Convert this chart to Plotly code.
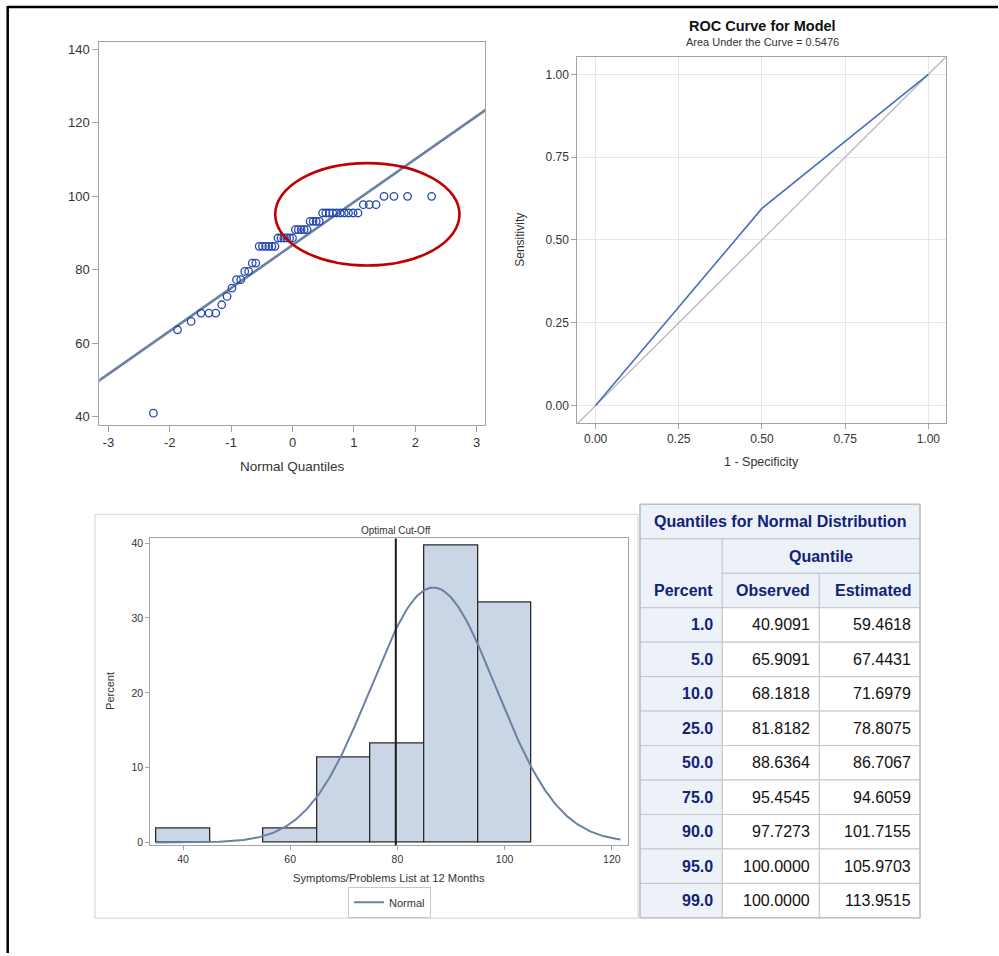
import numpy as np
import plotly.graph_objects as go
from statistics import NormalDist

# ---------------------------------------------------------------- data
# Symptoms/Problems List scores at 12 months (distinct levels and how often each occurs)
SCORE_LEVELS = [40.9091, 63.6364, 65.9091, 68.1818, 70.4545, 72.7273, 75.0000,
                77.2727, 79.5455, 81.8182, 86.3636, 88.6364, 90.9091, 93.1818,
                95.4545, 97.7273, 100.0000]
SCORE_COUNTS = [1, 1, 1, 3, 1, 1, 1, 2, 2, 2, 6, 6, 5, 4, 10, 3, 4]

# fitted normal distribution parameters
MU = 86.7067
SIGMA = 11.7114

# ROC curve
ROC_FPR = [0.0, 0.5, 1.0]
ROC_TPR = [0.0, 0.5952, 1.0]
AUC = 0.5476

# optimal cut-off on the score scale
CUTOFF = 79.7

# histogram bins
BIN_START, BIN_END, BIN_SIZE = 35, 105, 10

# quantile table
Q_PERCENT = [1.0, 5.0, 10.0, 25.0, 50.0, 75.0, 90.0, 95.0, 99.0]
Q_OBSERVED = [40.9091, 65.9091, 68.1818, 81.8182, 88.6364, 95.4545, 97.7273, 100.0000, 100.0000]
Q_ESTIMATED = [59.4618, 67.4431, 71.6979, 78.8075, 86.7067, 94.6059, 101.7155, 105.9703, 113.9515]

# ---------------------------------------------------------------- helpers
W, H = 999, 956
FONT = "Liberation Sans, Arial, sans-serif"
TXT = "#333333"
FRAME = "#a4a4a4"


def px(x):
    return x / W


def py(y):
    return 1 - y / H


sample = np.repeat(SCORE_LEVELS, SCORE_COUNTS)
n = len(sample)
nd = NormalDist()
qq_x = [nd.inv_cdf((i - 0.375) / (n + 0.25)) for i in range(1, n + 1)]

fig = go.Figure()

# ---------------------------------------------------------------- Q-Q plot
fit_x = np.array([-3.3, 3.3])
fig.add_trace(go.Scatter(x=fit_x, y=MU + SIGMA * fit_x, mode="lines",
                         line=dict(color="#6a81a4", width=2.6),
                         showlegend=False, xaxis="x", yaxis="y", hoverinfo="skip"))
fig.add_trace(go.Scatter(x=qq_x, y=sample, mode="markers",
                         marker=dict(symbol="circle-open", size=7.5, color="#2448b0",
                                     line=dict(width=1.3)),
                         showlegend=False, xaxis="x", yaxis="y"))

# ---------------------------------------------------------------- ROC
fig.add_trace(go.Scatter(x=[-0.1, 1.1], y=[-0.1, 1.1], mode="lines",
                         line=dict(color="#b8b8b8", width=1.3),
                         showlegend=False, xaxis="x2", yaxis="y2", hoverinfo="skip"))
fig.add_trace(go.Scatter(x=ROC_FPR, y=ROC_TPR, mode="lines",
                         line=dict(color="#4a6cc2", width=1.6),
                         showlegend=False, xaxis="x2", yaxis="y2"))

# ---------------------------------------------------------------- histogram
fig.add_trace(go.Histogram(x=sample, histnorm="percent",
                           xbins=dict(start=BIN_START, end=BIN_END, size=BIN_SIZE),
                           autobinx=False,
                           marker=dict(color="#cad5e5", line=dict(color="#2b2b2b", width=1.3)),
                           showlegend=False, xaxis="x3", yaxis="y3"))
curve_x = np.linspace(BIN_START, 121.6, 300)
curve_y = 100 * BIN_SIZE * np.exp(-0.5 * ((curve_x - MU) / SIGMA) ** 2) / (SIGMA * np.sqrt(2 * np.pi))
fig.add_trace(go.Scatter(x=curve_x, y=curve_y, mode="lines", name="Normal",
                         line=dict(color="#6a81a4", width=2),
                         showlegend=True, xaxis="x3", yaxis="y3"))

# ---------------------------------------------------------------- axes
def axis(domain, rng, tickvals, ticktext, size, anchor, grid=False, ticklen=6):
    return dict(domain=domain, range=rng, tickvals=tickvals, ticktext=ticktext,
                showline=True, mirror=True, linecolor=FRAME, linewidth=1,
                ticks="outside", ticklen=ticklen, tickcolor=FRAME,
                showgrid=grid, gridcolor="#e7e7e7", zeroline=False,
                tickfont=dict(family=FONT, size=size, color=TXT),
                anchor=anchor, fixedrange=True)


qq_xt = [-3, -2, -1, 0, 1, 2, 3]
qq_yt = [40, 60, 80, 100, 120, 140]
roc_t = [0, 0.25, 0.5, 0.75, 1.0]
hx_t = [40, 60, 80, 100, 120]
hy_t = [0, 10, 20, 30, 40]

fig.update_layout(
    xaxis=axis([px(99.3), px(485.3)], [-3.147, 3.14], qq_xt, [str(v) for v in qq_xt], 13, "y"),
    yaxis=axis([py(425), py(40)], [37.75, 142.1], qq_yt, [str(v) for v in qq_yt], 13, "x"),
    xaxis2=axis([px(577.3), px(946)], [-0.055, 1.053], roc_t, [f"{v:.2f}" for v in roc_t], 12, "y2", True, 5),
    yaxis2=axis([py(423.3), py(55.7)], [-0.053, 1.051], roc_t, [f"{v:.2f}" for v in roc_t], 12, "x2", True, 5),
    xaxis3=axis([px(150.3), px(627.9)], [33.9, 123.0], hx_t, [str(v) for v in hx_t], 10.5, "y3", False, 4),
    yaxis3=axis([py(847.7), py(539.3)], [-0.36, 40.62], hy_t, [str(v) for v in hy_t], 10.5, "x3", False, 4),
)
fig.update_layout(bargap=0)

# ---------------------------------------------------------------- shapes
shapes = []
# page frame (top and left rules)
shapes.append(dict(type="line", xref="paper", yref="paper", x0=px(7.7), x1=px(998), y0=py(5), y1=py(5),
                   line=dict(color="black", width=2.5)))
shapes.append(dict(type="line", xref="paper", yref="paper", x0=px(7.7), x1=px(7.7), y0=py(4), y1=0,
                   line=dict(color="black", width=2.5)))
# highlight around the upper tail of the Q-Q plot
shapes.append(dict(type="circle", xref="x", yref="y", x0=-0.282, x1=2.72, y0=81.14, y1=109.05,
                   line=dict(color="#c00000", width=2.6), layer="above"))
# histogram panel border
shapes.append(dict(type="rect", xref="paper", yref="paper", x0=px(95), x1=px(638), y0=py(921), y1=py(515),
                   line=dict(color="#d2d2d2", width=1), layer="below"))
# optimal cut-off reference line
shapes.append(dict(type="line", xref="x3", yref="y3 domain", x0=CUTOFF, x1=CUTOFF, y0=0, y1=1,
                   line=dict(color="#1a1a1a", width=2), layer="above"))

# ---------------------------------------------------------------- annotations
ann = []


def text(x, y, s, size, color=TXT, xref="paper", yref="paper", xanchor="center", angle=0, bold=False):
    ann.append(dict(x=x, y=y, xref=xref, yref=yref, text=f"<b>{s}</b>" if bold else s,
                    showarrow=False, xanchor=xanchor, yanchor="middle", textangle=angle,
                    font=dict(family=FONT, size=size, color=color)))


text(px(292.3), py(467), "Normal Quantiles", 13.5)
text(px(762), py(24.5), "ROC Curve for Model", 14.5, color="#111111", bold=True)
text(px(762), py(40.5), f"Area Under the Curve = {AUC:.4f}", 11)
text(px(520.5), py(239.5), "Sensitivity", 12, angle=-90)
text(px(761.7), py(462), "1 - Specificity", 12.5)
text(CUTOFF, py(531), "Optimal Cut-Off", 10, xref="x3")
text(px(389), py(881), "Symptoms/Problems List at 12 Months", 11.2)
text(px(110.5), py(693), "Percent", 11, angle=-90)

# ---------------------------------------------------------------- quantile table
T_LEFT, T_TOP = 640.0, 505.0
COL_W = [82.3, 97.0, 100.7]
ROW_H = 34.64
HEAD_BG = "#edf2f9"
HEAD_FG = "#112277"
GRID = "#c4c6ca"
col_x = np.concatenate([[T_LEFT], T_LEFT + np.cumsum(COL_W)])


def row_y(r):
    return T_TOP + r * ROW_H


def cell(c0, c1, r0, r1, fill):
    shapes.append(dict(type="rect", xref="paper", yref="paper",
                       x0=px(col_x[c0]), x1=px(col_x[c1]), y0=py(row_y(r1)), y1=py(row_y(r0)),
                       fillcolor=fill, line=dict(color=GRID, width=1), layer="above"))


def cell_text(c, r, s, color, bold, align="right", c_end=None):
    c_end = c + 1 if c_end is None else c_end
    yc = py(row_y(r) + ROW_H / 2)
    if align == "right":
        x, xa = px(col_x[c_end] - 7.5), "right"
    else:
        x, xa = px((col_x[c] + col_x[c_end]) / 2), "center"
    ann.append(dict(x=x, y=yc, xref="paper", yref="paper", text=f"<b>{s}</b>" if bold else s,
                    showarrow=False, xanchor=xa, yanchor="middle",
                    font=dict(family=FONT, size=16, color=color)))


# header block
cell(0, 3, 0, 1, HEAD_BG)
cell(0, 1, 1, 3, HEAD_BG)
cell(1, 3, 1, 2, HEAD_BG)
cell(1, 2, 2, 3, HEAD_BG)
cell(2, 3, 2, 3, HEAD_BG)
cell_text(0, 0, "Quantiles for Normal Distribution", HEAD_FG, True, "center", 3)
cell_text(1, 1, "Quantile", HEAD_FG, True, "center", 3)
cell_text(0, 2, "Percent", HEAD_FG, True)
cell_text(1, 2, "Observed", HEAD_FG, True)
cell_text(2, 2, "Estimated", HEAD_FG, True)

# body
for i, (p, o, e) in enumerate(zip(Q_PERCENT, Q_OBSERVED, Q_ESTIMATED)):
    r = 3 + i
    cell(0, 1, r, r + 1, HEAD_BG)
    cell(1, 2, r, r + 1, "white")
    cell(2, 3, r, r + 1, "white")
    cell_text(0, r, f"{p:.1f}", HEAD_FG, True)
    cell_text(1, r, f"{o:.4f}", "#111111", False)
    cell_text(2, r, f"{e:.4f}", "#111111", False)

# outer table border
shapes.append(dict(type="rect", xref="paper", yref="paper",
                   x0=px(col_x[0]), x1=px(col_x[-1]), y0=py(row_y(12)), y1=py(row_y(0)),
                   line=dict(color="#bfc1c4", width=1.5), layer="above"))

fig.update_layout(
    width=W, height=H,
    margin=dict(l=0, r=0, t=0, b=0),
    paper_bgcolor="white", plot_bgcolor="white",
    shapes=shapes, annotations=ann,
    showlegend=True,
    legend=dict(x=px(389.5), y=py(905), xanchor="center", yanchor="middle", orientation="h",
                bordercolor="#c8c8c8", borderwidth=1, bgcolor="white",
                font=dict(family=FONT, size=11, color=TXT), itemwidth=30),
    font=dict(family=FONT, color=TXT),
)

fig.write_html("out.html")
